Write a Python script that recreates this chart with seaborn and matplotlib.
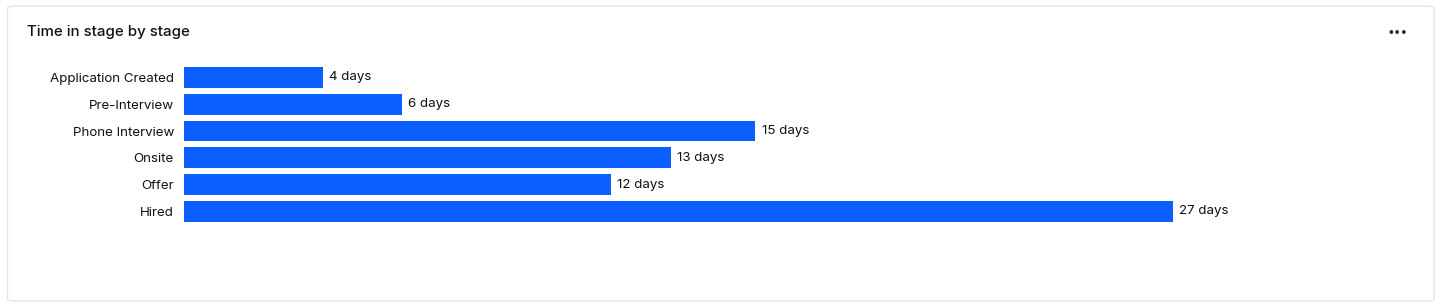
import matplotlib
matplotlib.use("Agg")
import matplotlib.pyplot as plt
from matplotlib.patches import FancyBboxPatch
import seaborn as sns
import pandas as pd

stages = ["Application Created", "Pre-Interview", "Phone Interview", "Onsite", "Offer", "Hired"]
days = [3.75, 5.89, 15.44, 13.15, 11.53, 26.73]
title = "Time in stage by stage"

sns.set_theme(style="white")
plt.rcParams["font.family"] = ["Inter", "DejaVu Sans"]

W, H = 1440, 306
fig = plt.figure(figsize=(W / 100, H / 100), dpi=100)

# card background
card = FancyBboxPatch((7.5 / W, 5 / H), (1434 - 7.5) / W, (300 - 5) / H,
                      boxstyle="round,pad=0,rounding_size=0.006",
                      transform=fig.transFigure, facecolor="white",
                      edgecolor="#E6E6E8", linewidth=1.0, zorder=-10)
fig.patches.append(card)

left_px, right_px = 184, 1400
top_px, bot_px = 64.1, 224.7
ax = fig.add_axes([left_px / W, 1 - bot_px / H, (right_px - left_px) / W, (bot_px - top_px) / H])
ax.set_facecolor("none")
ax.set_zorder(5)

df = pd.DataFrame({"stage": stages, "days": days})
sns.barplot(data=df, x="days", y="stage", orient="h", color="#0B5FFF",
            saturation=1, width=0.77, linewidth=0, ax=ax)

px_per_day = 37.0
ax.set_xlim(0, (right_px - left_px) / px_per_day)
ax.set_ylim(len(stages) - 0.5, -0.5)

labels = [f"{round(v)} days" for v in days]
ax.bar_label(ax.containers[0], labels=labels, padding=4.5, fontsize=9.6, color="#111111")

ax.set_xlabel("")
ax.set_ylabel("")
ax.set_xticks([])
ax.tick_params(axis="y", length=0, pad=7.2, labelsize=9.6, labelcolor="#111111")
for s in ax.spines.values():
    s.set_visible(False)

fig.text(27 / W, 1 - 32 / H, title, fontsize=10.8, fontweight="medium",
         color="#111111", ha="left", va="center", zorder=6)
fig.text(1398 / W, 1 - 33 / H, "•••", fontsize=8.5, color="#2A2A2E",
         ha="center", va="center", zorder=6)

fig.savefig("out.png", dpi=100, facecolor="white")
